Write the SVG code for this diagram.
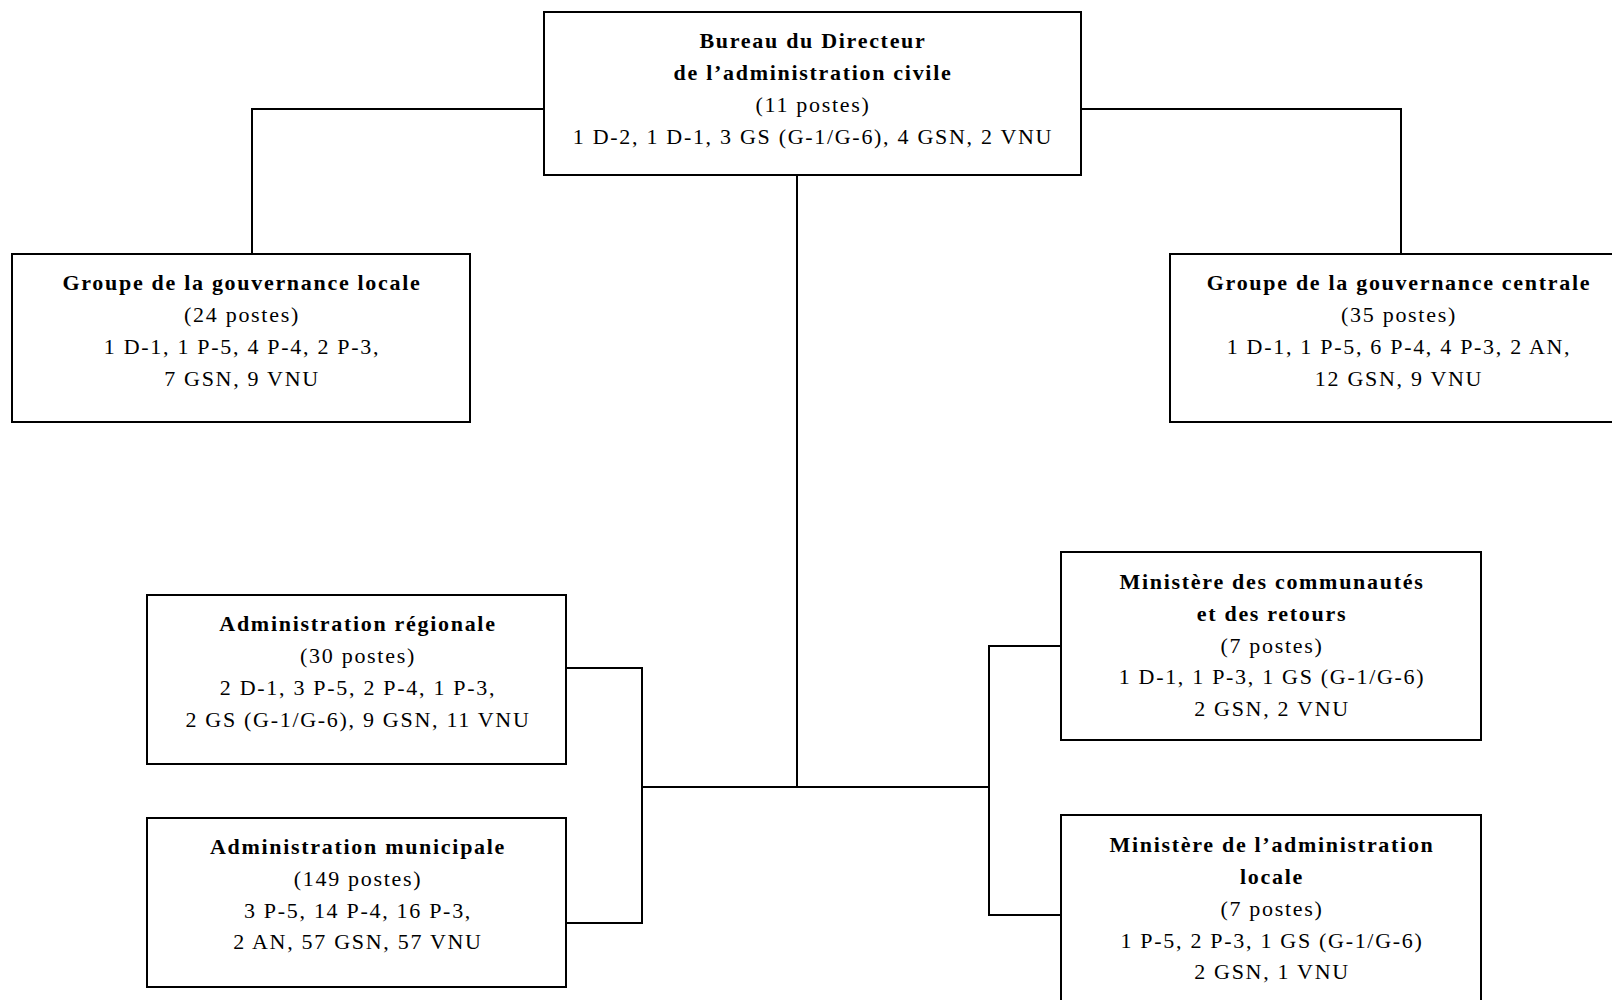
<svg xmlns="http://www.w3.org/2000/svg" width="1612" height="1000" viewBox="0 0 1612 1000">
<style>
.box{fill:#fff;stroke:#000;stroke-width:2}
.ln{fill:none;stroke:#000;stroke-width:2}
text{font-family:"Liberation Serif","Times New Roman",serif;font-size:22px;letter-spacing:1.7px;fill:#000;text-anchor:middle}
.b{font-weight:bold}
</style>
<rect width="1612" height="1000" fill="#fff"/>
<g id="connectors">
<polyline class="ln" points="544,109 252,109 252,254"/>
<polyline class="ln" points="1081,109 1401,109 1401,254"/>
<line class="ln" x1="797" y1="175" x2="797" y2="787"/>
<line class="ln" x1="642" y1="787" x2="989" y2="787"/>
<polyline class="ln" points="566,668 642,668 642,923 566,923"/>
<polyline class="ln" points="1061,646 989,646 989,915 1061,915"/>
</g>
<g id="bureau">
<rect class="box" x="544" y="12" width="537" height="163"/>
<text x="813" y="48" class="b">Bureau du Directeur</text>
<text x="813" y="80" class="b">de l’administration civile</text>
<text x="813" y="112">(11 postes)</text>
<text x="813" y="144">1 D-2, 1 D-1, 3 GS (G-1/G-6), 4 GSN, 2 VNU</text>
</g>
<g id="gouv-locale">
<rect class="box" x="12" y="254" width="458" height="168"/>
<text x="242" y="290" class="b">Groupe de la gouvernance locale</text>
<text x="242" y="322">(24 postes)</text>
<text x="242" y="354">1 D-1, 1 P-5, 4 P-4, 2 P-3,</text>
<text x="242" y="386">7 GSN, 9 VNU</text>
</g>
<g id="gouv-centrale">
<rect class="box" x="1170" y="254" width="456" height="168"/>
<text x="1399" y="290" class="b">Groupe de la gouvernance centrale</text>
<text x="1399" y="322">(35 postes)</text>
<text x="1399" y="354">1 D-1, 1 P-5, 6 P-4, 4 P-3, 2 AN,</text>
<text x="1399" y="386">12 GSN, 9 VNU</text>
</g>
<g id="admin-regionale">
<rect class="box" x="147" y="595" width="419" height="169"/>
<text x="358" y="631" class="b">Administration régionale</text>
<text x="358" y="663">(30 postes)</text>
<text x="358" y="695">2 D-1, 3 P-5, 2 P-4, 1 P-3,</text>
<text x="358" y="727">2 GS (G-1/G-6), 9 GSN, 11 VNU</text>
</g>
<g id="admin-municipale">
<rect class="box" x="147" y="818" width="419" height="169"/>
<text x="358" y="854" class="b">Administration municipale</text>
<text x="358" y="886">(149 postes)</text>
<text x="358" y="918">3 P-5, 14 P-4, 16 P-3,</text>
<text x="358" y="949">2 AN, 57 GSN, 57 VNU</text>
</g>
<g id="min-communautes">
<rect class="box" x="1061" y="552" width="420" height="188"/>
<text x="1272" y="589" class="b">Ministère des communautés</text>
<text x="1272" y="621" class="b">et des retours</text>
<text x="1272" y="653">(7 postes)</text>
<text x="1272" y="684">1 D-1, 1 P-3, 1 GS (G-1/G-6)</text>
<text x="1272" y="716">2 GSN, 2 VNU</text>
</g>
<g id="min-admin-locale">
<rect class="box" x="1061" y="815" width="420" height="195"/>
<text x="1272" y="852" class="b">Ministère de l’administration</text>
<text x="1272" y="884" class="b">locale</text>
<text x="1272" y="916">(7 postes)</text>
<text x="1272" y="948">1 P-5, 2 P-3, 1 GS (G-1/G-6)</text>
<text x="1272" y="979">2 GSN, 1 VNU</text>
</g>
</svg>
